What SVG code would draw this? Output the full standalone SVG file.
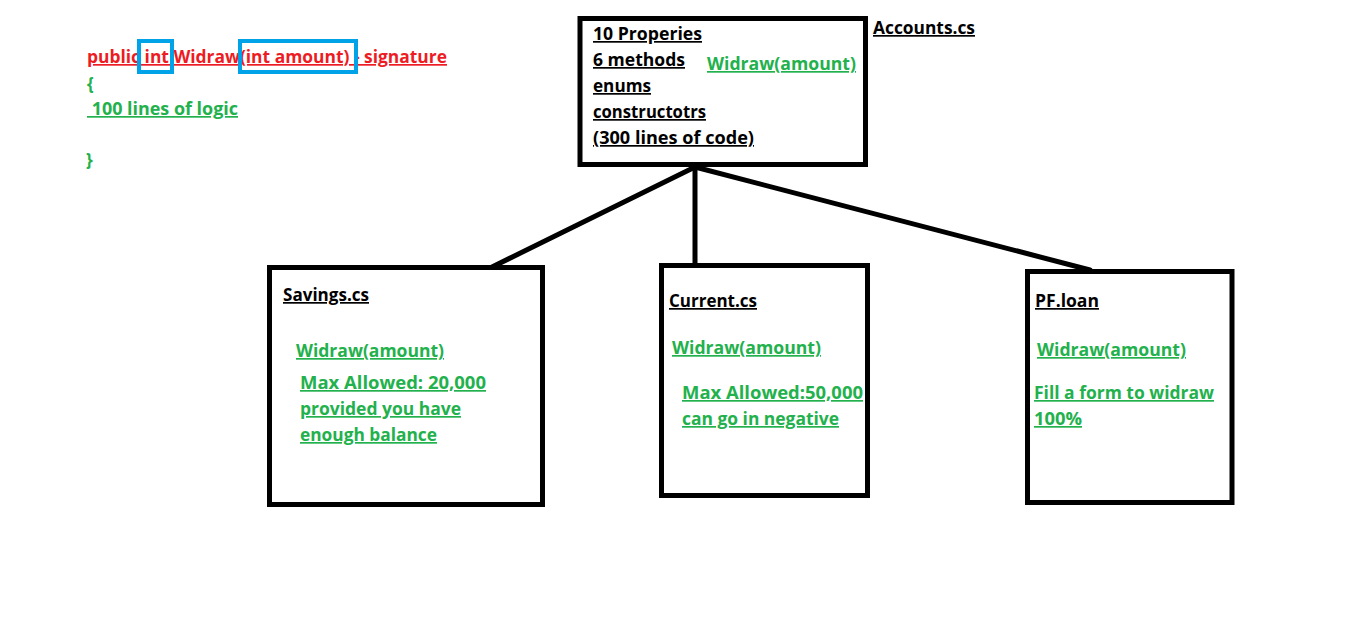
<svg xmlns="http://www.w3.org/2000/svg" width="1360" height="628" viewBox="0 0 1360 628">
<style>
text{font-family:"Open Sans","Noto Sans","DejaVu Sans",sans-serif;font-weight:bold;font-size:17px;text-decoration:underline;}
.k{fill:#000}
.g{fill:#22b14c}
.r{fill:#ed1c24}
.nd{text-decoration:none}
.box{fill:#fff;stroke:#000;stroke-width:5}
.hl{fill:none;stroke:#00a2e8;stroke-width:4}
.c{stroke:#000;stroke-width:5;stroke-linecap:round}
</style>
<rect width="1360" height="628" fill="#fff"/>
<g id="code">
<text class="r" x="87" y="63" textLength="360" lengthAdjust="spacingAndGlyphs">public int Widraw(int amount) - signature</text>
<rect class="hl" x="139" y="41" width="33" height="31"/>
<rect class="hl" x="240" y="41" width="116" height="31"/>
<text class="g nd" x="87" y="90">{</text>
<text class="g" x="87" y="115" xml:space="preserve" textLength="151" lengthAdjust="spacingAndGlyphs"> 100 lines of logic</text>
<text class="g nd" x="86" y="166">}</text>
</g>
<g id="connectors">
<line class="c" x1="695" y1="167" x2="490" y2="268"/>
<line class="c" x1="695" y1="167" x2="695" y2="266"/>
<line class="c" x1="695" y1="167" x2="1090" y2="270"/>
</g>
<g id="accounts">
<rect class="box" x="580" y="18.5" width="285.5" height="146"/>
<text class="k" x="593" y="40" textLength="109" lengthAdjust="spacingAndGlyphs">10 Properies</text>
<text class="k" x="593" y="66" textLength="92" lengthAdjust="spacingAndGlyphs">6 methods</text>
<text class="k" x="593" y="92" textLength="58" lengthAdjust="spacingAndGlyphs">enums</text>
<text class="k" x="593" y="118" textLength="113" lengthAdjust="spacingAndGlyphs">constructotrs</text>
<text class="k" x="593" y="144" textLength="161" lengthAdjust="spacingAndGlyphs">(300 lines of code)</text>
<text class="g" x="707" y="70" textLength="149" lengthAdjust="spacingAndGlyphs">Widraw(amount)</text>
<text class="k" x="873" y="34" textLength="102" lengthAdjust="spacingAndGlyphs">Accounts.cs</text>
</g>
<g id="savings">
<rect class="box" x="269.5" y="267.5" width="273" height="237"/>
<text class="k" x="283" y="301" textLength="86" lengthAdjust="spacingAndGlyphs">Savings.cs</text>
<text class="g" x="296" y="357" textLength="148" lengthAdjust="spacingAndGlyphs">Widraw(amount)</text>
<text class="g" x="300" y="389" textLength="186" lengthAdjust="spacingAndGlyphs">Max Allowed: 20,000</text>
<text class="g" x="300" y="415" textLength="161" lengthAdjust="spacingAndGlyphs">provided you have</text>
<text class="g" x="300" y="441" textLength="137" lengthAdjust="spacingAndGlyphs">enough balance</text>
</g>
<g id="current">
<rect class="box" x="661.5" y="265.5" width="206" height="230"/>
<text class="k" x="669" y="307" textLength="88" lengthAdjust="spacingAndGlyphs">Current.cs</text>
<text class="g" x="672" y="354" textLength="149" lengthAdjust="spacingAndGlyphs">Widraw(amount)</text>
<text class="g" x="682" y="399" textLength="181" lengthAdjust="spacingAndGlyphs">Max Allowed:50,000</text>
<text class="g" x="682" y="425" textLength="157" lengthAdjust="spacingAndGlyphs">can go in negative</text>
</g>
<g id="pfloan">
<rect class="box" x="1027.5" y="271.5" width="204.5" height="231"/>
<text class="k" x="1035" y="307" textLength="64" lengthAdjust="spacingAndGlyphs">PF.loan</text>
<text class="g" x="1037" y="356" textLength="149" lengthAdjust="spacingAndGlyphs">Widraw(amount)</text>
<text class="g" x="1034" y="399" textLength="180" lengthAdjust="spacingAndGlyphs">Fill a form to widraw</text>
<text class="g" x="1034" y="425" textLength="48" lengthAdjust="spacingAndGlyphs">100%</text>
</g>
</svg>
